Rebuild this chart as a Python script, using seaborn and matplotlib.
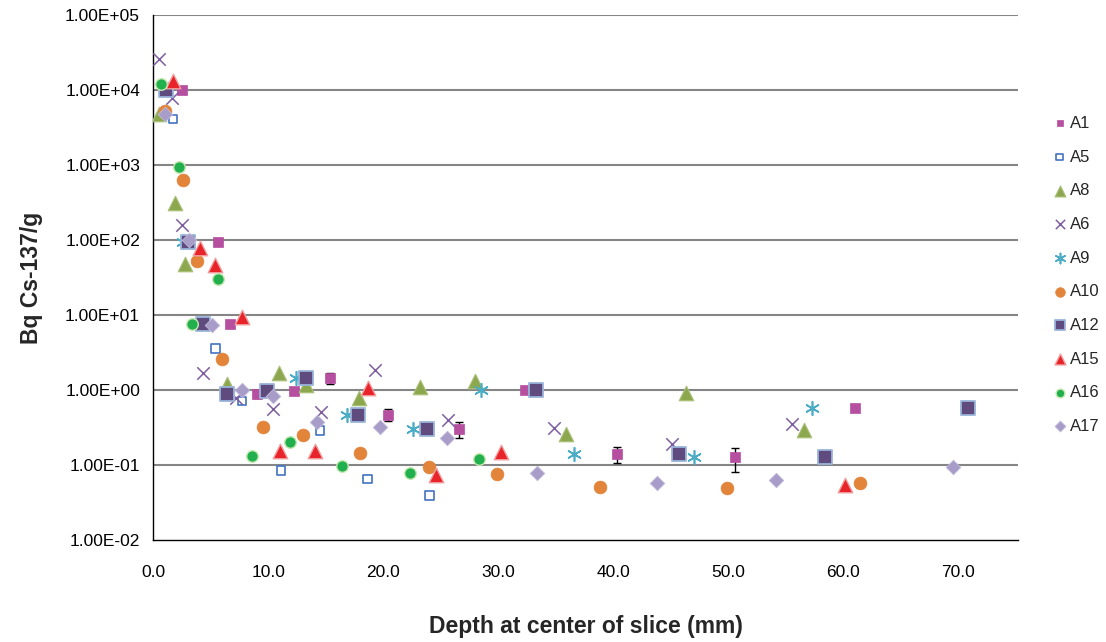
import numpy as np
import pandas as pd
import matplotlib
matplotlib.use("Agg")
import matplotlib.pyplot as plt
from matplotlib.ticker import FixedLocator, FuncFormatter, NullLocator
import seaborn as sns

# depth (mm) and activity (Bq Cs-137/g) per core
a1_depth = [2.5, 5.6, 6.7, 9.0, 12.2, 15.4, 20.4, 26.6, 32.3, 40.3, 50.6, 61.0]
a1_bq = [1.0e4, 95, 7.5, 0.89, 0.97, 1.43, 0.47, 0.30, 1.0, 0.14, 0.126, 0.57]
a1_err = [0, 0, 0, 0.11, 0.07, 0.23, 0.08, 0.07, 0, 0.033, 0.045, 0]

a5_depth = [1.7, 5.4, 7.7, 11.1, 14.5, 18.6, 24.0]
a5_bq = [4.1e3, 3.6, 0.71, 0.085, 0.29, 0.065, 0.039]

a8_depth = [0.5, 1.9, 2.8, 6.4, 10.9, 13.3, 17.9, 23.2, 28.0, 35.9, 46.3, 56.6]
a8_bq = [4.8e3, 316, 48, 1.2, 1.7, 1.17, 0.78, 1.08, 1.33, 0.26, 0.90, 0.29]

a6_depth = [0.5, 1.6, 2.5, 4.3, 7.2, 10.4, 14.6, 19.3, 25.6, 34.8, 45.1, 55.5]
a6_bq = [2.6e4, 7.9e3, 158, 1.7, 0.79, 0.55, 0.51, 1.85, 0.40, 0.31, 0.19, 0.35]

a9_depth = [2.6, 12.4, 16.8, 22.6, 28.5, 36.6, 47.0, 57.3]
a9_bq = [95, 1.43, 0.47, 0.30, 1.0, 0.14, 0.126, 0.57]

a10_depth = [1.0, 2.6, 3.8, 6.0, 9.5, 13.0, 18.0, 24.0, 29.9, 38.8, 49.9, 61.4]
a10_bq = [5.2e3, 630, 52, 2.6, 0.32, 0.25, 0.144, 0.095, 0.077, 0.051, 0.049, 0.057]

a12_depth = [1.1, 3.0, 4.3, 6.4, 9.9, 13.3, 17.8, 23.8, 33.3, 45.7, 58.4, 70.8]
a12_bq = [1.0e4, 93, 7.7, 0.89, 0.97, 1.43, 0.47, 0.30, 1.0, 0.14, 0.126, 0.57]

a15_depth = [1.7, 4.1, 5.4, 7.7, 11.0, 14.1, 18.7, 24.6, 30.2, 60.1]
a15_bq = [1.3e4, 78, 46, 9.5, 0.155, 0.155, 1.05, 0.073, 0.15, 0.054]

a16_depth = [0.7, 2.2, 5.6, 3.4, 8.6, 11.9, 16.4, 22.3, 28.3]
a16_bq = [1.2e4, 950, 30, 7.7, 0.133, 0.20, 0.097, 0.079, 0.12]

a17_depth = [1.0, 3.1, 5.1, 7.7, 10.4, 14.2, 19.7, 25.5, 33.4, 43.8, 54.1, 69.5]
a17_bq = [4.8e3, 100, 7.3, 1.0, 0.84, 0.37, 0.32, 0.23, 0.079, 0.058, 0.063, 0.093]

x_ticks = [0, 10, 20, 30, 40, 50, 60, 70]
y_ticks = [1e-2, 1e-1, 1e0, 1e1, 1e2, 1e3, 1e4, 1e5]

# name, depth, value, marker, face, edge, size, edge width
SERIES = [
    ("A1", a1_depth, a1_bq, "s", "#B64FA0", "#B64FA0", 45, 0.5),
    ("A5", a5_depth, a5_bq, "s", "none", "#4472C4", 38, 1.2),
    ("A8", a8_depth, a8_bq, "^", "#8DA74E", "#A9C27A", 110, 0.8),
    ("A6", a6_depth, a6_bq, "x", "#7E5EA0", "#7E5EA0", 80, 1.1),
    ("A9", a9_depth, a9_bq, (6, 2, 0), "#4BACC6", "#4BACC6", 95, 1.2),
    ("A10", a10_depth, a10_bq, "o", "#E3843B", "#E3843B", 85, 0.5),
    ("A12", a12_depth, a12_bq, "s", "#5F4B7D", "#9AB4DA", 90, 1.3),
    ("A15", a15_depth, a15_bq, "^", "#E8242A", "#F0A0A0", 110, 1.0),
    ("A16", a16_depth, a16_bq, "o", "#22B04E", "#C6E8B0", 70, 1.0),
    ("A17", a17_depth, a17_bq, "D", "#A89CC8", "#C4BCDC", 55, 0.6),
]


def draw_series(ax):

    for name, depth, bq, marker, face, edge, size, lw in SERIES:

        df = pd.DataFrame({"depth": depth, "bq": bq})

        sns.scatterplot(
            data=df, x="depth", y="bq", ax=ax,
            marker=marker, s=size, color=face if face != "none" else edge,
            facecolor=face, edgecolor=edge, linewidth=lw,
            label=name, zorder=3,
        )

    ax.errorbar(
        a1_depth, a1_bq, yerr=a1_err, fmt="none",
        ecolor="black", elinewidth=1.0, capsize=3, capthick=1.0, zorder=2,
    )


def style_axes(ax):

    ax.set_yscale("log")
    ax.set_xlim(0, 75.2)
    ax.set_ylim(1e-2, 1e5)

    ax.xaxis.set_major_locator(FixedLocator(x_ticks))
    ax.xaxis.set_major_formatter(FuncFormatter(lambda v, _: f"{v:.1f}"))
    ax.yaxis.set_major_locator(FixedLocator(y_ticks))
    ax.yaxis.set_minor_locator(NullLocator())
    ax.yaxis.set_major_formatter(FuncFormatter(lambda v, _: f"{v:.2E}"))

    for y in y_ticks[1:]:
        ax.axhline(y, color="#858585", linewidth=1.5, zorder=1)

    for side in ("top", "right"):
        ax.spines[side].set_visible(False)

    for side in ("left", "bottom"):
        ax.spines[side].set_color("black")
        ax.spines[side].set_linewidth(1.0)

    ax.tick_params(axis="both", direction="out", length=5.5, width=1.0,
                   color="black", labelsize=12.5, labelcolor="black")
    ax.tick_params(axis="x", pad=12.5)
    ax.tick_params(axis="y", pad=4)

    ax.set_xlabel("Depth at center of slice (mm)", fontsize=16.5, fontweight="bold")
    ax.set_ylabel("Bq Cs-137/g", fontsize=16.5, fontweight="bold")
    ax.xaxis.set_label_coords(0.5, -0.142)
    ax.yaxis.set_label_coords(-0.127, 0.5)


def main():

    sns.set_style("white")
    plt.rcParams["font.family"] = ["Liberation Sans", "DejaVu Sans"]

    fig = plt.figure(figsize=(11.06, 6.42), dpi=100)
    ax = fig.add_axes([0.1386, 0.1589, 0.7821, 0.8177])

    draw_series(ax)
    style_axes(ax)

    ax.legend(
        loc="upper left", bbox_to_anchor=(0.943, 0.8325), bbox_transform=fig.transFigure,
        frameon=False, fontsize=12, labelspacing=1.12, handletextpad=0.1,
        handlelength=1.0, borderpad=0, scatterpoints=1, markerscale=0.75,
    )

    fig.savefig("out.png", dpi=100)
    plt.close(fig)


if __name__ == "__main__":
    main()
